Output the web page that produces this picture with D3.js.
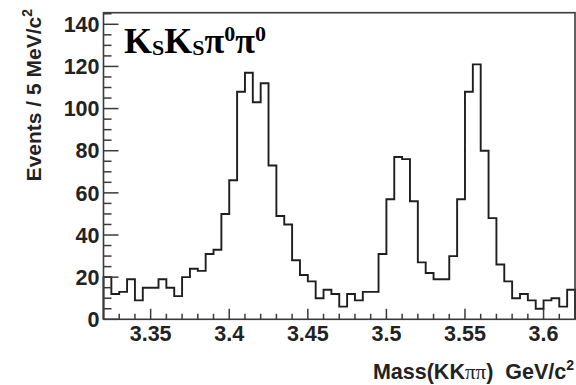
<!DOCTYPE html>
<html><head><meta charset="utf-8">
<script src="https://cdn.jsdelivr.net/npm/d3@7"></script>
<style>body{margin:0;background:#fff} svg{display:block}</style>
</head><body>
<svg id="c" width="576" height="385"></svg>
<script>
// ---- data ----
const binLow = 3.32;
const binWidth = 0.005;
const counts = [20,12,13,19,9,15,15,19,15,11,
                20,24,23,31,33,50,66,108,117,103,
                112,73,49,45,28,21,18,10,14,12,
                6,12,9,13,13,31,57,77,76,56,
                27,22,19,19,30,57,108,121,80,48,
                26,18,10,12,9,5,9,10,6,14];
const xDomain = [3.32, 3.62];
const yDomain = [0, 145.5];
const xTicks = [3.35, 3.4, 3.45, 3.5, 3.55, 3.6];
const xTickLabels = ["3.35", "3.4", "3.45", "3.5", "3.55", "3.6"];
const yTicks = [0, 20, 40, 60, 80, 100, 120, 140];
const yTickLabels = ["0", "20", "40", "60", "80", "100", "120", "140"];

// ---- layout ----
const L = 103.5, R = 575, T = 12.7, B = 319.3;
const svg = d3.select("#c");
const x = d3.scaleLinear().domain(xDomain).range([L, R]);
const y = d3.scaleLinear().domain(yDomain).range([B, T]);
const sans = "'Liberation Sans', Arial, Helvetica, sans-serif";
const serif = "'Liberation Serif', 'Times New Roman', serif";

// histogram as step path
const pts = [];
counts.forEach((c, i) => {
  const x0 = binLow + i * binWidth, x1 = x0 + binWidth;
  pts.push([x(x0), y(c)], [x(x1), y(c)]);
});
pts.unshift([x(binLow), y(0)]);
pts.push([x(binLow + counts.length * binWidth), y(0)]);
svg.append("path")
  .attr("d", d3.line()(pts))
  .attr("fill", "none").attr("stroke", "#1e1e1e").attr("stroke-width", 1.9)
  .attr("stroke-linejoin", "miter");

// frame
svg.append("rect").attr("x", L).attr("y", T).attr("width", R - L).attr("height", B - T)
  .attr("fill", "none").attr("stroke", "#3a3a3a").attr("stroke-width", 1.6);

// x axis ticks
const gx = svg.append("g");
const minorX = d3.range(0, 30).map(i => +(3.33 + i * 0.01).toFixed(3)).filter(v => v <= 3.62 && !xTicks.some(t => Math.abs(t - v) < 1e-6));
gx.selectAll("line.mn").data(minorX).join("line")
  .attr("x1", d => x(d)).attr("x2", d => x(d)).attr("y1", B).attr("y2", B - 5.5)
  .attr("stroke", "#3a3a3a").attr("stroke-width", 1.5);
gx.selectAll("line.mj").data(xTicks).join("line")
  .attr("x1", d => x(d)).attr("x2", d => x(d)).attr("y1", B).attr("y2", B - 10.5)
  .attr("stroke", "#3a3a3a").attr("stroke-width", 1.5);
gx.selectAll("text").data(xTicks).join("text")
  .attr("x", d => x(d)).attr("y", 340.5)
  .attr("text-anchor", "middle").attr("font-family", sans).attr("font-weight", "bold")
  .attr("font-size", 21.5).attr("fill", "#222")
  .text((d, i) => xTickLabels[i]);

// y axis ticks
const gy = svg.append("g");
const minorY = d3.range(5, 146, 5).filter(v => !yTicks.includes(v));
gy.selectAll("line.mn").data(minorY).join("line")
  .attr("x1", L).attr("x2", L + 8).attr("y1", d => y(d)).attr("y2", d => y(d))
  .attr("stroke", "#3a3a3a").attr("stroke-width", 1.5);
gy.selectAll("line.mj").data(yTicks).join("line")
  .attr("x1", L).attr("x2", L + 15).attr("y1", d => y(d)).attr("y2", d => y(d))
  .attr("stroke", "#3a3a3a").attr("stroke-width", 1.5);
gy.selectAll("text").data(yTicks).join("text")
  .attr("x", 99.5).attr("y", d => y(d) + 7.7)
  .attr("text-anchor", "end").attr("font-family", sans).attr("font-weight", "bold")
  .attr("font-size", 21.5).attr("fill", "#222")
  .text((d, i) => yTickLabels[i]);

// y title
const yt = svg.append("text")
  .attr("transform", "translate(40.5,9) rotate(-90)")
  .attr("text-anchor", "end").attr("font-family", sans).attr("font-weight", "bold")
  .attr("font-size", 21).attr("fill", "#222");
yt.append("tspan").text("Events / 5 MeV/c");
yt.append("tspan").attr("font-size", 14).attr("dy", -9).text("2");

// x title
const xt = svg.append("text")
  .attr("x", 574).attr("y", 378.5)
  .attr("text-anchor", "end").attr("font-family", sans).attr("font-weight", "bold")
  .attr("font-size", 21.5).attr("fill", "#222");
xt.append("tspan").text("Mass(KK");
xt.append("tspan").attr("font-family", serif).attr("font-weight", "normal").attr("font-size", 21).text("ππ");
xt.append("tspan").text(")\u00a0\u00a0GeV/c");
xt.append("tspan").attr("font-size", 14).attr("dy", -9).text("2");

// label
const lab = svg.append("text")
  .attr("x", 124).attr("y", 53)
  .attr("font-family", serif).attr("font-weight", "bold")
  .attr("font-size", 36).attr("fill", "#000");
lab.append("tspan").text("K");
lab.append("tspan").attr("font-size", 22).attr("dy", 2).text("S");
lab.append("tspan").attr("font-size", 36).attr("dy", -2).text("K");
lab.append("tspan").attr("font-size", 22).attr("dy", 2).text("S");
lab.append("tspan").attr("font-size", 36).attr("dy", -2).text("π");
lab.append("tspan").attr("font-size", 22).attr("dy", -12).text("0");
lab.append("tspan").attr("font-size", 36).attr("dy", 12).text("π");
lab.append("tspan").attr("font-size", 22).attr("dy", -12).text("0");
</script>
</body></html>
